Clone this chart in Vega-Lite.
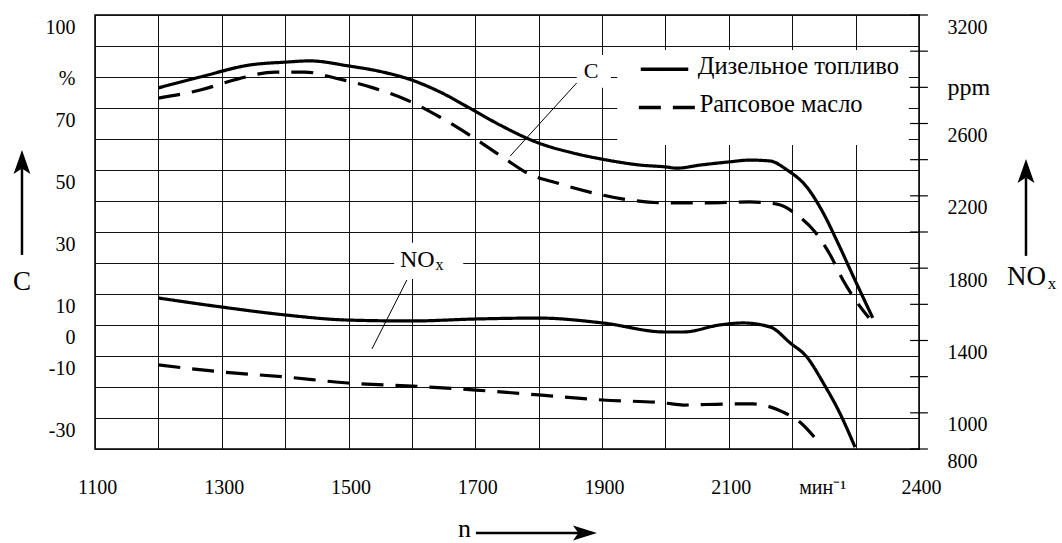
{
  "$schema": "https://vega.github.io/schema/vega-lite/v6.json",
  "width": 824,
  "height": 434,
  "autosize": {"type": "none"},
  "padding": {"left": 95, "top": 15, "right": 143, "bottom": 94},
  "background": "white",
  "config": {
    "view": {"stroke": "#000", "strokeWidth": 1.5},
    "font": "Liberation Serif, Times New Roman, serif",
    "text": {"font": "Liberation Serif, Times New Roman, serif"},
    "axis": {"labelFont": "Liberation Serif, Times New Roman, serif", "labelColor": "#000", "labelFontSize": 20}
  },
  "datasets": {
    "c": [
      {"n": 1200, "C": 76.5, "fuel": "Дизельное топливо"},
      {"n": 1266, "C": 80.0, "fuel": "Дизельное топливо"},
      {"n": 1345, "C": 83.9, "fuel": "Дизельное топливо"},
      {"n": 1401, "C": 84.8, "fuel": "Дизельное топливо"},
      {"n": 1439, "C": 85.2, "fuel": "Дизельное топливо"},
      {"n": 1499, "C": 83.6, "fuel": "Дизельное топливо"},
      {"n": 1554, "C": 81.6, "fuel": "Дизельное топливо"},
      {"n": 1600, "C": 79.0, "fuel": "Дизельное топливо"},
      {"n": 1644, "C": 75.2, "fuel": "Дизельное топливо"},
      {"n": 1696, "C": 69.4, "fuel": "Дизельное топливо"},
      {"n": 1739, "C": 64.5, "fuel": "Дизельное топливо"},
      {"n": 1800, "C": 58.7, "fuel": "Дизельное топливо"},
      {"n": 1854, "C": 55.5, "fuel": "Дизельное топливо"},
      {"n": 1908, "C": 53.2, "fuel": "Дизельное топливо"},
      {"n": 1960, "C": 51.6, "fuel": "Дизельное топливо"},
      {"n": 2000, "C": 51.0, "fuel": "Дизельное топливо"},
      {"n": 2018, "C": 50.6, "fuel": "Дизельное топливо"},
      {"n": 2055, "C": 51.6, "fuel": "Дизельное топливо"},
      {"n": 2100, "C": 52.6, "fuel": "Дизельное топливо"},
      {"n": 2133, "C": 53.2, "fuel": "Дизельное топливо"},
      {"n": 2165, "C": 52.9, "fuel": "Дизельное топливо"},
      {"n": 2192, "C": 50.0, "fuel": "Дизельное топливо"},
      {"n": 2223, "C": 44.5, "fuel": "Дизельное топливо"},
      {"n": 2249, "C": 36.1, "fuel": "Дизельное топливо"},
      {"n": 2272, "C": 26.5, "fuel": "Дизельное топливо"},
      {"n": 2299, "C": 14.5, "fuel": "Дизельное топливо"},
      {"n": 2327, "C": 2.3, "fuel": "Дизельное топливо"},
      {"n": 1200, "C": 73.2, "fuel": "Рапсовое масло"},
      {"n": 1266, "C": 75.8, "fuel": "Рапсовое масло"},
      {"n": 1326, "C": 79.4, "fuel": "Рапсовое масло"},
      {"n": 1384, "C": 81.6, "fuel": "Рапсовое масло"},
      {"n": 1431, "C": 81.6, "fuel": "Рапсовое масло"},
      {"n": 1480, "C": 79.6, "fuel": "Рапсовое масло"},
      {"n": 1539, "C": 76.5, "fuel": "Рапсовое масло"},
      {"n": 1592, "C": 72.6, "fuel": "Рапсовое масло"},
      {"n": 1644, "C": 67.1, "fuel": "Рапсовое масло"},
      {"n": 1696, "C": 60.6, "fuel": "Рапсовое масло"},
      {"n": 1750, "C": 53.2, "fuel": "Рапсовое масло"},
      {"n": 1782, "C": 49.0, "fuel": "Рапсовое масло"},
      {"n": 1829, "C": 45.8, "fuel": "Рапсовое масло"},
      {"n": 1886, "C": 42.6, "fuel": "Рапсовое масло"},
      {"n": 1944, "C": 40.3, "fuel": "Рапсовое масло"},
      {"n": 2000, "C": 39.4, "fuel": "Рапсовое масло"},
      {"n": 2066, "C": 39.4, "fuel": "Рапсовое масло"},
      {"n": 2133, "C": 39.7, "fuel": "Рапсовое масло"},
      {"n": 2176, "C": 39.0, "fuel": "Рапсовое масло"},
      {"n": 2212, "C": 34.8, "fuel": "Рапсовое масло"},
      {"n": 2236, "C": 30.0, "fuel": "Рапсовое масло"},
      {"n": 2260, "C": 22.6, "fuel": "Рапсовое масло"},
      {"n": 2280, "C": 14.5, "fuel": "Рапсовое масло"},
      {"n": 2302, "C": 7.4, "fuel": "Рапсовое масло"},
      {"n": 2321, "C": 2.3, "fuel": "Рапсовое масло"}
    ],
    "nox": [
      {"n": 1200, "ppm": 1635, "fuel": "Дизельное топливо"},
      {"n": 1300, "ppm": 1585, "fuel": "Дизельное топливо"},
      {"n": 1401, "ppm": 1541, "fuel": "Дизельное топливо"},
      {"n": 1499, "ppm": 1513, "fuel": "Дизельное топливо"},
      {"n": 1600, "ppm": 1508, "fuel": "Дизельное топливо"},
      {"n": 1701, "ppm": 1519, "fuel": "Дизельное топливо"},
      {"n": 1800, "ppm": 1524, "fuel": "Дизельное топливо"},
      {"n": 1901, "ppm": 1497, "fuel": "Дизельное топливо"},
      {"n": 2000, "ppm": 1447, "fuel": "Дизельное топливо"},
      {"n": 2028, "ppm": 1447, "fuel": "Дизельное топливо"},
      {"n": 2086, "ppm": 1486, "fuel": "Дизельное топливо"},
      {"n": 2122, "ppm": 1497, "fuel": "Дизельное топливо"},
      {"n": 2165, "ppm": 1475, "fuel": "Дизельное топливо"},
      {"n": 2197, "ppm": 1386, "fuel": "Дизельное топливо"},
      {"n": 2223, "ppm": 1309, "fuel": "Дизельное топливо"},
      {"n": 2249, "ppm": 1165, "fuel": "Дизельное топливо"},
      {"n": 2275, "ppm": 999, "fuel": "Дизельное топливо"},
      {"n": 2299, "ppm": 811, "fuel": "Дизельное топливо"},
      {"n": 1200, "ppm": 1265, "fuel": "Рапсовое масло"},
      {"n": 1300, "ppm": 1226, "fuel": "Рапсовое масло"},
      {"n": 1401, "ppm": 1198, "fuel": "Рапсовое масло"},
      {"n": 1499, "ppm": 1165, "fuel": "Рапсовое масло"},
      {"n": 1600, "ppm": 1148, "fuel": "Рапсовое масло"},
      {"n": 1701, "ppm": 1126, "fuel": "Рапсовое масло"},
      {"n": 1800, "ppm": 1099, "fuel": "Рапсовое масло"},
      {"n": 1901, "ppm": 1071, "fuel": "Рапсовое масло"},
      {"n": 2000, "ppm": 1054, "fuel": "Рапсовое масло"},
      {"n": 2028, "ppm": 1043, "fuel": "Рапсовое масло"},
      {"n": 2100, "ppm": 1049, "fuel": "Рапсовое масло"},
      {"n": 2138, "ppm": 1049, "fuel": "Рапсовое масло"},
      {"n": 2160, "ppm": 1038, "fuel": "Рапсовое масло"},
      {"n": 2185, "ppm": 1005, "fuel": "Рапсовое масло"},
      {"n": 2212, "ppm": 949, "fuel": "Рапсовое масло"},
      {"n": 2236, "ppm": 861, "fuel": "Рапсовое масло"}
    ]
  },
  "layer": [
    {
      "layer": [
        {
          "data": {"values": [
            {"n1": 1924, "n2": 2384, "c1": 88.7, "c2": 58.1},
            {"n1": 1860, "n2": 1914, "c1": 87.1, "c2": 76.5},
            {"n1": 1572, "n2": 1681, "c1": 26.5, "c2": 14.8}
          ]},
          "mark": {"type": "rect", "fill": "white"},
          "encoding": {
            "x": {
              "field": "n1", "type": "quantitative",
              "scale": {"domain": [1100, 2400], "nice": false, "zero": false},
              "axis": {
                "title": null,
                "values": [1100, 1200, 1300, 1400, 1500, 1600, 1700, 1800, 1900, 2000, 2100, 2200, 2300, 2400],
                "tickCount": 40,
                "format": "d",
                "grid": true, "gridColor": "#111", "gridWidth": 1,
                "ticks": false, "domain": false,
                "labelExpr": "indexof([1100,1300,1500,1700,1900,2100,2400], datum.value) >= 0 ? toString(datum.value) : (datum.value == 2200 ? 'мин⁻¹' : '')",
                "labelOffset": {"condition": {"test": "datum.value == 2200", "value": 30}, "value": 2},
                "labelPadding": 28,
                "labelOverlap": false, "labelFlush": false, "labelBound": false
              }
            },
            "x2": {"field": "n2"},
            "y": {
              "field": "c1", "type": "quantitative",
              "scale": {"domain": [-40, 100], "nice": false, "zero": false},
              "axis": {
                "title": null,
                "values": [-40, -30, -20, -10, 0, 10, 20, 30, 40, 50, 60, 70, 80, 90, 100],
                "tickCount": 40,
                "grid": true, "gridColor": "#111", "gridWidth": 1,
                "ticks": false, "domain": false,
                "labelExpr": "datum.value == 80 ? '%' : (indexof([100,70,50,30,10,0,-10,-30], datum.value) >= 0 ? toString(datum.value) : '')",
                "labelOffset": {"condition": {"test": "datum.value == 80", "value": 1}, "value": 12},
                "labelPadding": 20, "labelAlign": "right",
                "labelOverlap": false, "labelFlush": false, "labelBound": false
              }
            },
            "y2": {"field": "c2"}
          }
        },
        {
          "data": {"name": "c"},
          "mark": {"type": "line", "color": "#000", "strokeWidth": 3.2, "interpolate": "monotone"},
          "encoding": {
            "x": {"field": "n", "type": "quantitative"},
            "y": {"field": "C", "type": "quantitative"},
            "strokeDash": {"field": "fuel", "type": "nominal", "scale": {"domain": ["Дизельное топливо", "Рапсовое масло"], "range": [[1, 0], [22, 12]]}, "legend": null}
          }
        },
        {
          "data": {"values": [
            {"n1": 1860, "c1": 78.1, "n2": 1755, "c2": 54.5},
            {"n1": 1592, "c1": 14.5, "n2": 1537, "c2": -7.7}
          ]},
          "mark": {"type": "rule", "color": "#000", "strokeWidth": 1},
          "encoding": {
            "x": {"field": "n1", "type": "quantitative"},
            "y": {"field": "c1", "type": "quantitative"},
            "x2": {"field": "n2"},
            "y2": {"field": "c2"}
          }
        },
        {
          "data": {"values": [
            {"fuel": "Дизельное топливо", "n1": 1961, "n2": 2036, "c": 82.5},
            {"fuel": "Рапсовое масло", "n1": 1958, "n2": 2047, "c": 70.2}
          ]},
          "mark": {"type": "rule", "color": "#000", "strokeWidth": 3.5},
          "encoding": {
            "x": {"field": "n1", "type": "quantitative"},
            "x2": {"field": "n2"},
            "y": {"field": "c", "type": "quantitative"},
            "strokeDash": {"field": "fuel", "type": "nominal", "scale": {"domain": ["Дизельное топливо", "Рапсовое масло"], "range": [[1, 0], [22, 12]]}, "legend": null}
          }
        },
        {
          "data": {"values": [
            {"label": "Дизельное топливо", "n": 2051, "c": 81.0},
            {"label": "Рапсовое масло", "n": 2054, "c": 68.8}
          ]},
          "mark": {"type": "text", "fontSize": 24.5, "align": "left", "baseline": "alphabetic", "color": "#000"},
          "encoding": {
            "x": {"field": "n", "type": "quantitative"},
            "y": {"field": "c", "type": "quantitative"},
            "text": {"field": "label"}
          }
        },
        {
          "data": {"values": [{"label": "C", "n": 1882.5, "c": 79.7}]},
          "mark": {"type": "text", "fontSize": 22, "align": "center", "baseline": "alphabetic", "color": "#000"},
          "encoding": {
            "x": {"field": "n", "type": "quantitative"},
            "y": {"field": "c", "type": "quantitative"},
            "text": {"field": "label"}
          }
        },
        {
          "data": {"values": [{"label": "NO", "n": 1581, "c": 18.8}]},
          "mark": {"type": "text", "fontSize": 24, "align": "left", "baseline": "alphabetic", "color": "#000"},
          "encoding": {
            "x": {"field": "n", "type": "quantitative"},
            "y": {"field": "c", "type": "quantitative"},
            "text": {"field": "label"}
          }
        },
        {
          "data": {"values": [{"label": "x", "n": 1637, "c": 17.6}]},
          "mark": {"type": "text", "fontSize": 16, "align": "left", "baseline": "alphabetic", "color": "#000"},
          "encoding": {
            "x": {"field": "n", "type": "quantitative"},
            "y": {"field": "c", "type": "quantitative"},
            "text": {"field": "label"}
          }
        },
        {
          "data": {"values": [{"label": "C", "n": 984.8, "c": 11.3}]},
          "mark": {"type": "text", "fontSize": 27, "align": "center", "baseline": "alphabetic", "color": "#000"},
          "encoding": {
            "x": {"field": "n", "type": "quantitative"},
            "y": {"field": "c", "type": "quantitative"},
            "text": {"field": "label"}
          }
        },
        {
          "data": {"values": [{"label": "NO", "n": 2538.9, "c": 12.9}]},
          "mark": {"type": "text", "fontSize": 27, "align": "left", "baseline": "alphabetic", "color": "#000"},
          "encoding": {
            "x": {"field": "n", "type": "quantitative"},
            "y": {"field": "c", "type": "quantitative"},
            "text": {"field": "label"}
          }
        },
        {
          "data": {"values": [{"label": "x", "n": 2603, "c": 11.6}]},
          "mark": {"type": "text", "fontSize": 17, "align": "left", "baseline": "alphabetic", "color": "#000"},
          "encoding": {
            "x": {"field": "n", "type": "quantitative"},
            "y": {"field": "c", "type": "quantitative"},
            "text": {"field": "label"}
          }
        },
        {
          "data": {"values": [{"label": "n", "n": 1683, "c": -68.4}]},
          "mark": {"type": "text", "fontSize": 26, "align": "center", "baseline": "alphabetic", "color": "#000"},
          "encoding": {
            "x": {"field": "n", "type": "quantitative"},
            "y": {"field": "c", "type": "quantitative"},
            "text": {"field": "label"}
          }
        },
        {
          "data": {"values": [
            {"n1": 984.8, "c1": 22.6, "n2": 984.8, "c2": 50.5},
            {"n1": 2568.8, "c1": 22.3, "n2": 2568.8, "c2": 47.5},
            {"n1": 1701, "c1": -67.1, "n2": 1866, "c2": -67.1}
          ]},
          "mark": {"type": "rule", "color": "#000", "strokeWidth": 2.5},
          "encoding": {
            "x": {"field": "n1", "type": "quantitative"},
            "y": {"field": "c1", "type": "quantitative"},
            "x2": {"field": "n2"},
            "y2": {"field": "c2"}
          }
        },
        {
          "data": {"values": [
            {"n": 984.8, "c": 52.6},
            {"n": 2568.8, "c": 49.7}
          ]},
          "mark": {"type": "point", "shape": "M0,-1L0.7,1L0,0.55L-0.7,1Z", "size": 576, "filled": true, "color": "#000", "opacity": 1, "strokeWidth": 0},
          "encoding": {
            "x": {"field": "n", "type": "quantitative"},
            "y": {"field": "c", "type": "quantitative"}
          }
        },
        {
          "data": {"values": [{"n": 1873, "c": -67.1}]},
          "mark": {"type": "point", "shape": "M1,0L-1,0.62L-0.55,0L-1,-0.62Z", "size": 576, "filled": true, "color": "#000", "opacity": 1, "strokeWidth": 0},
          "encoding": {
            "x": {"field": "n", "type": "quantitative"},
            "y": {"field": "c", "type": "quantitative"}
          }
        }
      ]
    },
    {
      "layer": [
        {
          "data": {"name": "nox"},
          "mark": {"type": "line", "color": "#000", "strokeWidth": 3.2, "interpolate": "monotone"},
          "encoding": {
            "x": {"field": "n", "type": "quantitative"},
            "y": {
              "field": "ppm", "type": "quantitative",
              "scale": {"domain": [800, 3200], "nice": false, "zero": false},
              "axis": {
                "orient": "right",
                "title": null,
                "values": [3200, 2800, 2600, 2200, 1800, 1400, 1000, 800],
                "tickCount": 40,
                "labelExpr": "datum.value == 2800 ? 'ppm' : toString(datum.value)",
                "labelOffset": {"condition": {"test": "datum.value == 2800", "value": 0}, "value": 12},
                "labelFontSize": {"condition": {"test": "datum.value == 2800", "value": 24}, "value": 20},
                "ticks": false, "domain": false, "grid": false,
                "labelPadding": 28, "labelAlign": "left",
                "labelOverlap": false, "labelFlush": false, "labelBound": false
              }
            },
            "strokeDash": {"field": "fuel", "type": "nominal", "scale": {"domain": ["Дизельное топливо", "Рапсовое масло"], "range": [[1, 0], [22, 12]]}, "legend": null}
          }
        },
        {
          "data": {"values": [
            {"ppm": 800}, {"ppm": 1000}, {"ppm": 1200}, {"ppm": 1400}, {"ppm": 1600}, {"ppm": 1800}, {"ppm": 2000},
            {"ppm": 2200}, {"ppm": 2400}, {"ppm": 2600}, {"ppm": 2800}, {"ppm": 3000}, {"ppm": 3200}
          ]},
          "mark": {"type": "rule", "color": "#000", "strokeWidth": 1.2},
          "encoding": {
            "x": {"datum": 2386, "type": "quantitative"},
            "x2": {"datum": 2414},
            "y": {"field": "ppm", "type": "quantitative"}
          }
        }
      ]
    }
  ],
  "resolve": {"scale": {"y": "independent"}}
}
